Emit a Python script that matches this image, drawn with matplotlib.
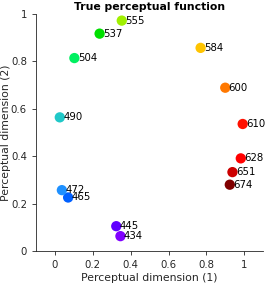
import matplotlib
matplotlib.use("Agg")
import matplotlib.pyplot as plt

# wavelengths (nm) and their positions in the 2-D perceptual space
wavelengths = [434, 445, 465, 472, 490, 504, 537, 555, 584, 600, 610, 628, 651, 674]
dim1 = [0.346, 0.324, 0.070, 0.037, 0.026, 0.103, 0.236, 0.353, 0.769, 0.899, 0.991, 0.981, 0.937, 0.923]
dim2 = [0.063, 0.105, 0.226, 0.257, 0.564, 0.814, 0.917, 0.972, 0.857, 0.689, 0.536, 0.391, 0.333, 0.280]
colors = ["#8000ff", "#6000ff", "#0060ff", "#1e90ff", "#20c8c8", "#00f060", "#00e000",
          "#a0f000", "#ffc400", "#ff7800", "#ff1000", "#ff0000", "#cc0000", "#800000"]

fig = plt.figure(figsize=(2.66, 2.85), dpi=100)
ax = fig.add_axes([0.135, 0.119, 0.855, 0.832])

ax.scatter(dim1, dim2, s=55, c=colors, edgecolors="none", zorder=3, clip_on=False)
for x, y, w in zip(dim1, dim2, wavelengths):
    ax.annotate(str(w), (x, y), xytext=(2.5, 0), textcoords="offset points",
                fontsize=7.3, va="center", ha="left", color="black",
                annotation_clip=False)

ax.set_xlim(-0.1, 1.1)
ax.set_ylim(0, 1)
ax.set_xticks([0, 0.2, 0.4, 0.6, 0.8, 1])
ax.set_xticklabels(["0", "0.2", "0.4", "0.6", "0.8", "1"])
ax.set_yticks([0, 0.2, 0.4, 0.6, 0.8, 1])
ax.set_yticklabels(["0", "0.2", "0.4", "0.6", "0.8", "1"])
for s in ("top", "right"):
    ax.spines[s].set_visible(False)
for s in ("left", "bottom"):
    ax.spines[s].set_color("#262626")
    ax.spines[s].set_linewidth(0.6)
ax.tick_params(direction="out", length=3, width=0.6, colors="#262626", labelsize=7.3)
ax.set_xlabel("Perceptual dimension (1)", fontsize=7.8, color="#262626", labelpad=2)
ax.set_ylabel("Perceptual dimension (2)", fontsize=7.8, color="#262626")
ax.yaxis.set_label_coords(-0.108, 0.5)
ax.set_title("True perceptual function", fontsize=7.8, fontweight="bold", pad=3)

fig.savefig("out.png", dpi=100)
